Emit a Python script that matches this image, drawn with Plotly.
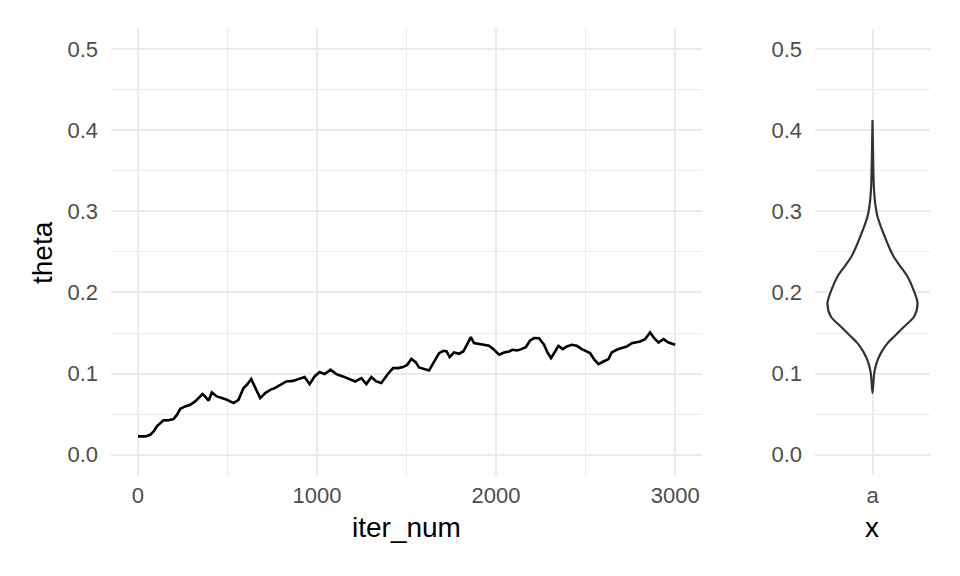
import plotly.graph_objects as go

# ---- trace data ----
iter_num = [1, 41, 69, 88, 106, 143, 171, 199, 218, 237, 264, 292, 320, 339, 361, 376, 395, 413,
            441, 469, 497, 535, 562, 590, 609, 633, 652, 683, 711, 739, 764, 801, 829, 866, 903,
            931, 959, 987, 1015, 1043, 1076, 1108, 1145, 1183, 1214, 1248, 1276, 1304, 1331,
            1359, 1378, 1400, 1425, 1453, 1480, 1505, 1527, 1551, 1570, 1598, 1626, 1644, 1663,
            1682, 1706, 1724, 1741, 1765, 1793, 1817, 1840, 1859, 1877, 1905, 1933, 1961, 1989,
            2017, 2045, 2073, 2091, 2119, 2141, 2166, 2190, 2212, 2240, 2268, 2287, 2307, 2330,
            2348, 2372, 2395, 2423, 2451, 2479, 2507, 2525, 2547, 2572, 2600, 2628, 2646, 2674,
            2702, 2730, 2758, 2782, 2804, 2832, 2860, 2883, 2907, 2935, 2963, 3000]
theta = [0.0226, 0.0226, 0.0246, 0.0287, 0.0349, 0.0423, 0.0425, 0.0440, 0.0490, 0.0566, 0.0595,
         0.0616, 0.0657, 0.0698, 0.0747, 0.0718, 0.0665, 0.0768, 0.0718, 0.0698, 0.0677, 0.0636,
         0.0677, 0.0821, 0.0862, 0.0932, 0.0841, 0.0698, 0.0760, 0.0800, 0.0820, 0.0862, 0.0903,
         0.0910, 0.0936, 0.0957, 0.0870, 0.0965, 0.1018, 0.0993, 0.1047, 0.0993, 0.0965, 0.0936,
         0.0903, 0.0944, 0.0870, 0.0957, 0.0903, 0.0883, 0.0944, 0.1006, 0.1067, 0.1067, 0.1080,
         0.1108, 0.1182, 0.1141, 0.1075, 0.1059, 0.1038, 0.1108, 0.1190, 0.1252, 0.1280, 0.1272,
         0.1203, 0.1260, 0.1244, 0.1272, 0.1367, 0.1449, 0.1375, 0.1367, 0.1355, 0.1342, 0.1293,
         0.1232, 0.1260, 0.1272, 0.1293, 0.1285, 0.1301, 0.1326, 0.1408, 0.1437, 0.1435, 0.1355,
         0.1260, 0.1190, 0.1272, 0.1342, 0.1301, 0.1334, 0.1355, 0.1342, 0.1301, 0.1272, 0.1252,
         0.1178, 0.1117, 0.1149, 0.1178, 0.1260, 0.1293, 0.1314, 0.1334, 0.1375, 0.1383, 0.1396,
         0.1424, 0.1506, 0.1437, 0.1383, 0.1424, 0.1383, 0.1355]

# ---- violin outline (theta level and half width in category units) ----
violin_theta = [0.076, 0.1006, 0.1129, 0.1252, 0.1375, 0.1457, 0.158, 0.1703, 0.1868, 0.2032,
                0.2196, 0.2319, 0.2442, 0.2566, 0.2689, 0.2812, 0.2935, 0.31, 0.3305, 0.3633, 0.4126]
violin_halfwidth = [0.0, 0.018, 0.042, 0.087, 0.157, 0.226, 0.331, 0.435, 0.470, 0.428,
                    0.365, 0.292, 0.220, 0.170, 0.128, 0.087, 0.052, 0.028, 0.014, 0.007, 0.0]
violin_category = "a"

y_ticks = [0.0, 0.1, 0.2, 0.3, 0.4, 0.5]
x_ticks = [0, 1000, 2000, 3000]

FONT = "Liberation Sans, Arial, sans-serif"
GRID = "#EBEBEB"
TICKC = "#4D4D4D"
W, H = 960, 576
OFF = 8  # default page body margin


def px_x(p):
    return (p - OFF) / W


def px_y(p):
    return (H - (p - OFF)) / H


fig = go.Figure()
fig.add_trace(go.Scatter(x=iter_num, y=theta, mode="lines",
                         line=dict(color="black", width=2.6), xaxis="x", yaxis="y",
                         showlegend=False, hoverinfo="skip"))

vx = [h for h in violin_halfwidth] + [-h for h in violin_halfwidth[::-1]]
vy = violin_theta + violin_theta[::-1]
fig.add_trace(go.Scatter(x=vx, y=vy, mode="lines", fill="toself", fillcolor="white",
                         line=dict(color="#333333", width=2.2, shape="spline", smoothing=0.8),
                         xaxis="x2", yaxis="y2", showlegend=False, hoverinfo="skip"))

ydom = [px_y(475), px_y(28.7)]
common_y = dict(range=[-0.025, 0.525], tickvals=y_ticks, tickformat=".1f",
                showgrid=True, gridcolor=GRID, gridwidth=2, zeroline=False,
                showline=False, ticks="", ticklabelstandoff=12,
                tickfont=dict(family=FONT, size=22, color=TICKC),
                minor=dict(dtick=0.05, tick0=0, showgrid=True, gridcolor=GRID, gridwidth=1),
                domain=ydom)

fig.update_layout(
    width=W, height=H, margin=dict(l=0, r=0, t=0, b=0),
    paper_bgcolor="white", plot_bgcolor="white",
    xaxis=dict(domain=[px_x(111), px_x(702)], range=[-149.95, 3150], tickvals=x_ticks,
               showgrid=True, gridcolor=GRID, gridwidth=2, zeroline=False, ticks="",
               ticklabelstandoff=5, tickfont=dict(family=FONT, size=22, color=TICKC),
               minor=dict(dtick=500, tick0=0, showgrid=True, gridcolor=GRID, gridwidth=1),
               anchor="y"),
    yaxis=dict(anchor="x", **common_y),
    xaxis2=dict(domain=[px_x(815), px_x(930)], range=[-0.6, 0.6], tickvals=[0],
                ticktext=[violin_category], showgrid=True, gridcolor=GRID, gridwidth=2,
                zeroline=False, ticks="", ticklabelstandoff=5,
                tickfont=dict(family=FONT, size=22, color=TICKC), anchor="y2"),
    yaxis2=dict(anchor="x2", **common_y),
    annotations=[
        dict(text="iter_num", x=px_x((111 + 702) / 2), y=px_y(527), xref="paper",
             yref="paper", showarrow=False, font=dict(family=FONT, size=28, color="black"),
             xanchor="center", yanchor="middle"),
        dict(text="x", x=px_x(872), y=px_y(527), xref="paper", yref="paper",
             showarrow=False, font=dict(family=FONT, size=28, color="black"),
             xanchor="center", yanchor="middle"),
        dict(text="theta", x=px_x(42), y=px_y(253), xref="paper", yref="paper",
             showarrow=False, textangle=-90, font=dict(family=FONT, size=28, color="black"),
             xanchor="center", yanchor="middle"),
    ],
)

fig.write_html("out.html")
